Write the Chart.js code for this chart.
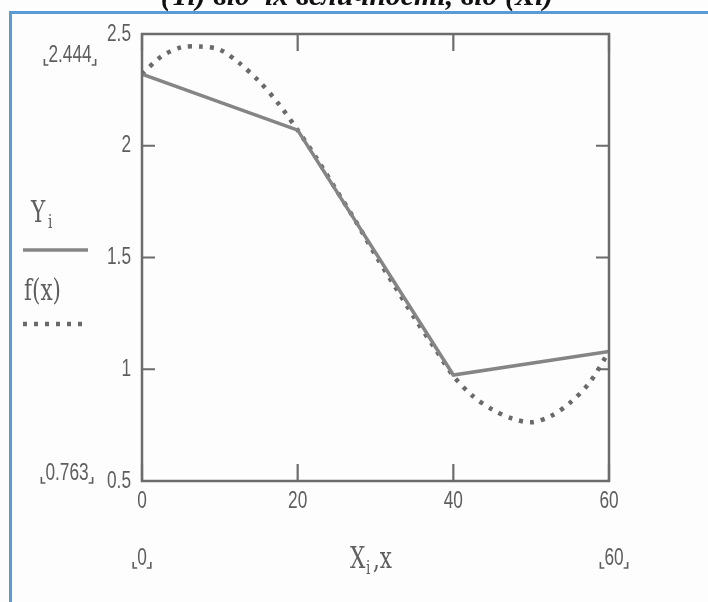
<!DOCTYPE html>
<html>
<head>
<meta charset="utf-8">
<script src="https://cdn.jsdelivr.net/npm/chart.js@4/dist/chart.umd.min.js"></script>
<style>
  html, body { margin: 0; padding: 0; background: #fdfdfd; }
  canvas { display: block; }
</style>
</head>
<body>
<canvas id="plot" width="708" height="602"></canvas>
<script>
// Axis ticks
const xTicks = [0, 20, 40, 60];
const yTicks = [0.5, 1, 1.5, 2, 2.5];

// Measured points Y_i at X_i
const dataX = [0, 20, 40, 60];
const dataY = [2.32, 2.07, 0.974, 1.08];

// Fitted curve f(x)
const fitX = [0, 2.5, 5, 7.5, 10, 12.5, 15, 17.5, 20, 22.5, 25, 27.5, 30,
              32.5, 35, 37.5, 40, 42.5, 45, 47.5, 50, 52.5, 55, 57.5, 60];
const fitY = [2.32, 2.40, 2.44, 2.444, 2.43, 2.37, 2.29, 2.19, 2.07, 1.94, 1.80, 1.66, 1.51,
              1.37, 1.23, 1.10, 0.97, 0.88, 0.82, 0.78, 0.763, 0.79, 0.85, 0.94, 1.08];

// Range markers printed beside the axes
const yLimits = ['2.444', '0.763'];
const xLimits = ['0', '60'];

const title = '(Yi) від  їх величності, від (Xi)';

const SANS = '"Liberation Sans", Arial, sans-serif';
const SERIF = '"DejaVu Serif", "Liberation Serif", serif';
const INK = '#5e5e5e';

const solidStyle = { color: '#858585', width: 3.5 };
const dotStyle = { color: '#6a6a6a', width: 4.5, dash: [4, 7] };

// Draws text squeezed horizontally by sx
function condensedText(ctx, text, x, y, font, sx, align) {
  ctx.save();
  ctx.font = font;
  const w = ctx.measureText(text).width * sx;
  let left = x;
  if (align === 'center') left = x - w / 2;
  else if (align === 'right') left = x - w;
  ctx.translate(left, y);
  ctx.scale(sx, 1);
  ctx.textAlign = 'left';
  ctx.fillText(text, 0, 0);
  ctx.restore();
  return { left, right: left + w };
}

const NUM_FONT = '24px ' + SANS;
const NUM_SX = 0.72;

function bracketed(ctx, text, cx, cy) {
  ctx.save();
  ctx.fillStyle = INK;
  ctx.strokeStyle = INK;
  ctx.lineWidth = 1.6;
  ctx.textBaseline = 'middle';
  const r = condensedText(ctx, text, cx, cy, NUM_FONT, NUM_SX, 'center');
  const yb = cy + 10, h = 6, w = 4;
  const l = r.left - 4, rr = r.right + 4;
  ctx.beginPath();
  ctx.moveTo(l, yb - h); ctx.lineTo(l, yb); ctx.lineTo(l + w, yb);
  ctx.moveTo(rr, yb - h); ctx.lineTo(rr, yb); ctx.lineTo(rr - w, yb);
  ctx.stroke();
  ctx.restore();
}

const decorations = {
  id: 'decorations',
  beforeDraw(chart) {
    const { ctx, width, height } = chart;
    ctx.save();
    ctx.fillStyle = '#fdfdfd';
    ctx.fillRect(0, 0, width, height);
    ctx.restore();
  },
  afterDatasetsDraw(chart) {
    const { ctx, chartArea: a, scales } = chart;
    ctx.save();
    ctx.strokeStyle = '#6c6c6c';
    ctx.lineWidth = 2.5;
    ctx.strokeRect(a.left, a.top, a.right - a.left, a.bottom - a.top);
    ctx.lineWidth = 2.2;
    ctx.beginPath();
    xTicks.forEach(v => {
      const px = scales.x.getPixelForValue(v);
      ctx.moveTo(px, a.bottom); ctx.lineTo(px, a.bottom - 17);
      ctx.moveTo(px, a.top); ctx.lineTo(px, a.top + 17);
    });
    yTicks.forEach(v => {
      const py = scales.y.getPixelForValue(v);
      ctx.moveTo(a.left, py); ctx.lineTo(a.left + 13, py);
      ctx.moveTo(a.right, py); ctx.lineTo(a.right - 13, py);
    });
    ctx.stroke();

    // tick labels, placed by the scales
    ctx.fillStyle = INK;
    ctx.textBaseline = 'middle';
    xTicks.forEach(v => {
      condensedText(ctx, String(v), scales.x.getPixelForValue(v), a.bottom + 20, NUM_FONT, NUM_SX, 'center');
    });
    yTicks.forEach(v => {
      condensedText(ctx, String(v), a.left - 11, scales.y.getPixelForValue(v), NUM_FONT, NUM_SX, 'right');
    });
    ctx.restore();
  },
  afterDraw(chart) {
    const { ctx, scales } = chart;
    ctx.save();

    // page frame
    ctx.strokeStyle = '#5b9bd5';
    ctx.lineWidth = 3;
    ctx.beginPath();
    ctx.moveTo(10.5, 602); ctx.lineTo(10.5, 12.5); ctx.lineTo(708, 12.5);
    ctx.stroke();

    // heading, clipped by the top edge
    ctx.fillStyle = '#111';
    ctx.font = 'italic bold 30px "Liberation Serif", "Times New Roman", serif';
    ctx.textAlign = 'center';
    ctx.textBaseline = 'alphabetic';
    ctx.fillText(title, 357, 5);

    // range markers
    bracketed(ctx, yLimits[0], 70, scales.y.getPixelForValue(2.5) + 21);
    bracketed(ctx, yLimits[1], 67, scales.y.getPixelForValue(0.5) - 8);
    bracketed(ctx, xLimits[0], scales.x.getPixelForValue(0), 558);
    bracketed(ctx, xLimits[1], scales.x.getPixelForValue(60) + 5, 558);

    // series names and line samples
    ctx.fillStyle = INK;
    ctx.textBaseline = 'alphabetic';
    condensedText(ctx, 'Y', 31, 222, '30px ' + SERIF, 0.72, 'left');
    condensedText(ctx, 'i', 48, 228, '19px ' + SERIF, 0.72, 'left');

    ctx.strokeStyle = solidStyle.color;
    ctx.lineWidth = solidStyle.width;
    ctx.beginPath(); ctx.moveTo(23, 250); ctx.lineTo(88, 250); ctx.stroke();

    condensedText(ctx, 'f(x)', 24, 300, '30px ' + SERIF, 0.72, 'left');

    ctx.strokeStyle = dotStyle.color;
    ctx.lineWidth = dotStyle.width;
    ctx.setLineDash(dotStyle.dash);
    ctx.beginPath(); ctx.moveTo(23, 324); ctx.lineTo(82, 324); ctx.stroke();
    ctx.setLineDash([]);

    // x axis caption
    condensedText(ctx, 'X', 350, 568, '30px ' + SERIF, 0.72, 'left');
    condensedText(ctx, 'i', 366, 574, '19px ' + SERIF, 0.72, 'left');
    condensedText(ctx, ',x', 373, 568, '30px ' + SERIF, 0.72, 'left');

    ctx.restore();
  }
};

new Chart(document.getElementById('plot'), {
  type: 'line',
  data: {
    datasets: [
      {
        label: 'Y_i',
        data: dataX.map((x, i) => ({ x, y: dataY[i] })),
        borderColor: solidStyle.color,
        borderWidth: solidStyle.width,
        pointRadius: 0,
        tension: 0,
        fill: false
      },
      {
        label: 'f(x)',
        data: fitX.map((x, i) => ({ x, y: fitY[i] })),
        borderColor: dotStyle.color,
        borderWidth: dotStyle.width,
        borderDash: dotStyle.dash,
        borderCapStyle: 'butt',
        pointRadius: 0,
        tension: 0.3,
        fill: false
      }
    ]
  },
  options: {
    responsive: false,
    animation: false,
    devicePixelRatio: 1,
    layout: { padding: { left: 0, right: 99, top: 34, bottom: 0 } },
    plugins: { legend: { display: false }, tooltip: { enabled: false }, title: { display: false } },
    scales: {
      x: {
        type: 'linear',
        min: 0, max: 60,
        afterBuildTicks: s => { s.ticks = xTicks.map(v => ({ value: v })); },
        afterFit: s => { s.height = 121; },
        grid: { display: false, drawTicks: false, tickLength: 0 },
        border: { display: false },
        ticks: { display: false }
      },
      y: {
        type: 'linear',
        min: 0.5, max: 2.5,
        afterBuildTicks: s => { s.ticks = yTicks.map(v => ({ value: v })); },
        afterFit: s => { s.width = 142; },
        grid: { display: false, drawTicks: false, tickLength: 0 },
        border: { display: false },
        ticks: { display: false }
      }
    }
  },
  plugins: [decorations]
});
</script>
</body>
</html>
